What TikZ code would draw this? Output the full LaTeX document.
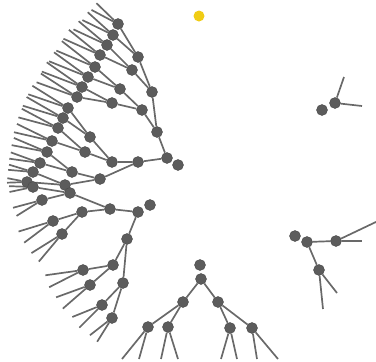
\documentclass[tikz,border=0pt]{standalone}
\usetikzlibrary{calc}
\pgfdeclarelayer{bg}
\pgfsetlayers{bg,main}
\definecolor{nodegray}{RGB}{92,92,92}
\definecolor{edgegray}{RGB}{105,105,105}
\definecolor{sun}{RGB}{240,204,20}
\tikzset{
  dot/.style={circle,fill=nodegray,draw=nodegray!80!black,line width=0.4pt,minimum size=11pt,inner sep=0pt},
  ydot/.style={circle,fill=sun,minimum size=11pt,inner sep=0pt},
  edge/.style={draw=edgegray,line width=1.7pt}
}
\newcommand\lv[4]{%
  \coordinate (#1-x) at ($(#1.center)+(#2:#4)$);
  \coordinate (#1-y) at ($(#1.center)+(#3:#4)$);
  \begin{pgfonlayer}{bg}
  \draw[edge] (#1) -- (#1-x);
  \draw[edge] (#1) -- (#1-y);
  \end{pgfonlayer}}
\newcommand\ed[2]{\begin{pgfonlayer}{bg}\draw[edge] (#1) -- (#2);\end{pgfonlayer}}
\begin{document}
\begin{tikzpicture}[x=1pt,y=-1pt]
\useasboundingbox (0,0) rectangle (376,362);
% yellow node
\node[ydot] (sun) at (199,16) {};
% ---------- tree 1
\node[dot] (f1) at (178,165) {};
\node[dot] (r1) at (167,158) {};
\node[dot] (a) at (157,132) {};
\node[dot] (b) at (138,162) {};
\node[dot] (a1) at (152,92) {};
\node[dot] (a2) at (142,110) {};
\node[dot] (a11) at (138,57) {};
\node[dot] (a12) at (132,70) {};
\node[dot] (a21) at (120,89) {};
\node[dot] (a22) at (112,103) {};
\node[dot] (b1) at (112,162) {};
\node[dot] (b2) at (100,179) {};
\node[dot] (b11) at (90,137) {};
\node[dot] (b12) at (85,152) {};
\node[dot] (b21) at (72,172) {};
\node[dot] (b22) at (65,185) {};
\node[dot] (p1) at (118,24) {};
\node[dot] (p2) at (113,35) {};
\node[dot] (p3) at (107,45) {};
\node[dot] (p4) at (100,55) {};
\node[dot] (p5) at (95,67) {};
\node[dot] (p6) at (88,77) {};
\node[dot] (p7) at (82,87) {};
\node[dot] (p8) at (77,97) {};
\node[dot] (p9) at (68,108) {};
\node[dot] (p10) at (63,118) {};
\node[dot] (p11) at (58,128) {};
\node[dot] (p12) at (52,141) {};
\node[dot] (p13) at (47,152) {};
\node[dot] (p14) at (40,163) {};
\node[dot] (p15) at (33,172) {};
\node[dot] (p16) at (27,182) {};
\ed{r1}{a}\ed{r1}{b}
\ed{a}{a1}\ed{a}{a2}\ed{b}{b1}\ed{b}{b2}
\ed{a1}{a11}\ed{a1}{a12}\ed{a2}{a21}\ed{a2}{a22}
\ed{b1}{b11}\ed{b1}{b12}\ed{b2}{b21}\ed{b2}{b22}
\ed{a11}{p1}\ed{a11}{p2}\ed{a12}{p3}\ed{a12}{p4}
\ed{a21}{p5}\ed{a21}{p6}\ed{a22}{p7}\ed{a22}{p8}
\ed{b11}{p9}\ed{b11}{p10}\ed{b12}{p11}\ed{b12}{p12}
\ed{b21}{p13}\ed{b21}{p14}\ed{b22}{p15}\ed{b22}{p16}
\lv{p1}{208}{224}{30}
\lv{p2}{206}{222}{34}
\lv{p3}{205}{220}{37}
\lv{p4}{204}{219}{40}
\lv{p5}{203}{218}{42}
\lv{p6}{202}{216}{42}
\lv{p7}{201}{215}{43}
\lv{p8}{200}{213}{43}
\lv{p9}{199}{212}{42}
\lv{p10}{197}{210}{42}
\lv{p11}{195}{208}{41}
\lv{p12}{193}{206}{39}
\lv{p13}{191}{203}{36}
\lv{p14}{188}{200}{31}
\lv{p15}{185}{197}{25}
\lv{p16}{178}{191}{20}
% ---------- tree 2
\node[dot] (f2) at (150,205) {};
\node[dot] (r2) at (138,212) {};
\node[dot] (c1) at (110,209) {};
\node[dot] (c2) at (127,239) {};
\node[dot] (c11) at (70,193) {};
\node[dot] (c12) at (82,212) {};
\node[dot] (c21) at (113,265) {};
\node[dot] (c22) at (123,283) {};
\node[dot] (q1) at (33,187) {};
\node[dot] (q2) at (42,200) {};
\node[dot] (q3) at (53,221) {};
\node[dot] (q4) at (62,234) {};
\node[dot] (q5) at (83,270) {};
\node[dot] (q6) at (90,285) {};
\node[dot] (q7) at (102,305) {};
\node[dot] (q8) at (112,318) {};
\ed{r2}{c1}\ed{r2}{c2}
\ed{c1}{c11}\ed{c1}{c12}\ed{c2}{c21}\ed{c2}{c22}
\ed{c11}{q1}\ed{c11}{q2}\ed{c12}{q3}\ed{c12}{q4}
\ed{c21}{q5}\ed{c21}{q6}\ed{c22}{q7}\ed{c22}{q8}
\lv{q1}{168}{182}{24}
\lv{q2}{165}{148}{30}
\lv{q3}{163}{143}{36}
\lv{q4}{148}{130}{36}
\lv{q5}{172}{153}{38}
\lv{q6}{160}{139}{36}
\lv{q7}{158}{135}{32}
\lv{q8}{142}{122}{28}
% ---------- tree 3
\node[dot] (f3) at (200,265) {};
\node[dot] (r3) at (201,279) {};
\node[dot] (d1) at (183,302) {};
\node[dot] (d2) at (218,302) {};
\node[dot] (d11) at (148,327) {};
\node[dot] (d12) at (168,327) {};
\node[dot] (d21) at (230,328) {};
\node[dot] (d22) at (252,328) {};
\coordinate (t1) at (122,359);
\coordinate (t2) at (139,359);
\coordinate (t3) at (161,359);
\coordinate (t4) at (178,359);
\coordinate (t5) at (221,359);
\coordinate (t6) at (237,359);
\coordinate (t7) at (257,359);
\coordinate (t8) at (278,359);
\ed{r3}{d1}\ed{r3}{d2}
\ed{d1}{d11}\ed{d1}{d12}\ed{d2}{d21}\ed{d2}{d22}
\ed{d11}{t1}\ed{d11}{t2}\ed{d12}{t3}\ed{d12}{t4}
\ed{d21}{t5}\ed{d21}{t6}\ed{d22}{t7}\ed{d22}{t8}
% ---------- tree 4
\node[dot] (f4) at (295,236) {};
\node[dot] (r4) at (307,242) {};
\node[dot] (e1) at (336,241) {};
\node[dot] (e2) at (319,270) {};
\coordinate (u1) at (378,221);
\coordinate (u2) at (362,241);
\coordinate (u3) at (337,293);
\coordinate (u4) at (323,309);
\ed{r4}{e1}\ed{r4}{e2}
\ed{e1}{u1}\ed{e1}{u2}\ed{e2}{u3}\ed{e2}{u4}
% ---------- tree 5
\node[dot] (f5) at (322,110) {};
\node[dot] (r5) at (335,103) {};
\coordinate (v1) at (344,77);
\coordinate (v2) at (362,106);
\ed{r5}{v1}\ed{r5}{v2}
\end{tikzpicture}
\end{document}
